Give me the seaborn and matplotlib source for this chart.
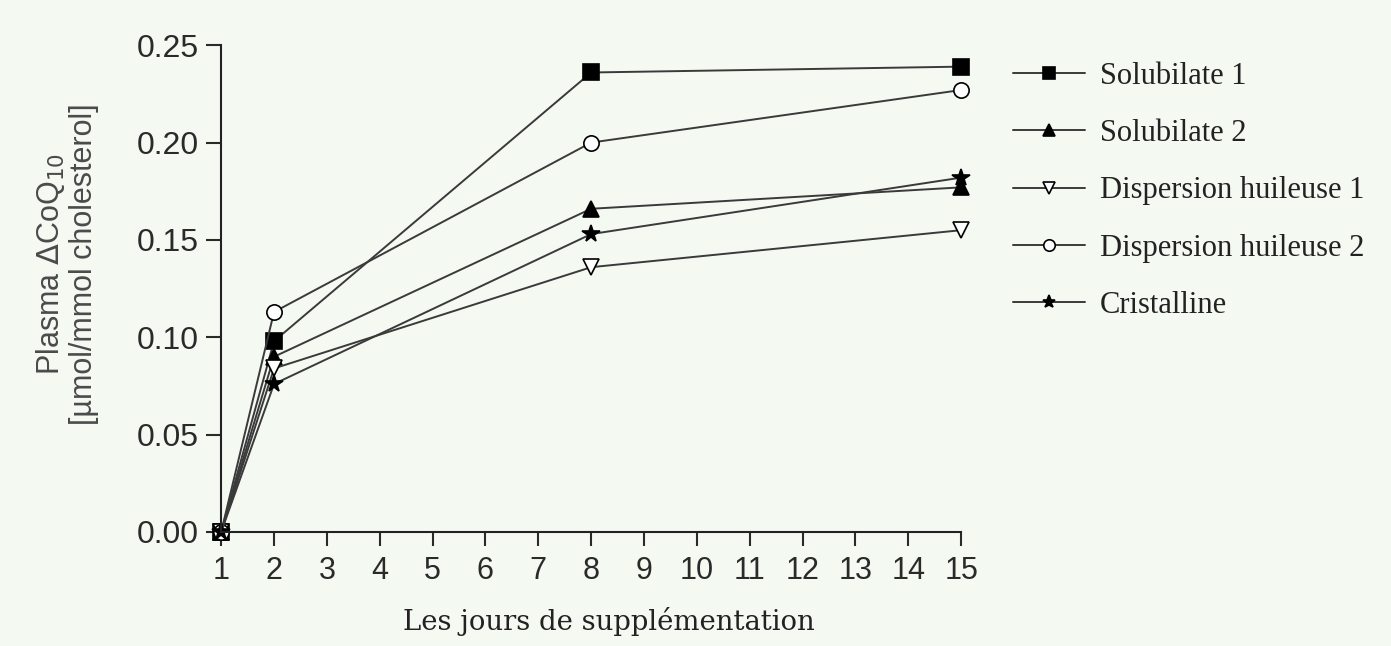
import matplotlib
matplotlib.use("Agg")
import matplotlib.pyplot as plt
import seaborn as sns

days = [1, 2, 8, 15]
solubilate_1 = [0.0, 0.098, 0.236, 0.239]
solubilate_2 = [0.0, 0.090, 0.166, 0.177]
dispersion_1 = [0.0, 0.084, 0.136, 0.155]
dispersion_2 = [0.0, 0.113, 0.200, 0.227]
cristalline = [0.0, 0.076, 0.153, 0.182]

labels = ["Solubilate 1", "Solubilate 2", "Dispersion huileuse 1",
          "Dispersion huileuse 2", "Cristalline"]
series = [solubilate_1, solubilate_2, dispersion_1, dispersion_2, cristalline]
markers = ["s", "^", "v", "o", "*"]
facecolors = ["black", "black", "white", "white", "black"]

sns.set_style("ticks")
bg = "#f4f9f2"
fig = plt.figure(figsize=(13.91, 6.46), dpi=100, facecolor=bg)
ax = fig.add_axes([0.159, 0.1765, 0.532, 0.7535])
ax.set_facecolor(bg)

line_col = "#3a3a3a"
for lab, vals, m, fc in zip(labels, series, markers, facecolors):
    sns.lineplot(x=days, y=vals, ax=ax, color=line_col, linewidth=1.4,
                 marker=m, markersize=11 if m != "*" else 13,
                 markerfacecolor=fc, markeredgecolor="black",
                 markeredgewidth=1.2, label=lab)

ax.set_xlim(1, 15)
ax.set_ylim(0, 0.25)
ax.set_xticks(range(1, 16))
ax.set_yticks([0.0, 0.05, 0.10, 0.15, 0.20, 0.25])
ax.set_yticklabels(["0.00", "0.05", "0.10", "0.15", "0.20", "0.25"])
for l in ax.lines:
    l.set_clip_on(False)

sans = "Liberation Sans"
ax.tick_params(axis="y", labelsize=23, length=11, width=1.5, colors="#2a2a2a",
               pad=5)
ax.tick_params(axis="x", labelsize=22, length=10, width=1.5, colors="#2a2a2a",
               pad=7)
for t in ax.get_xticklabels() + ax.get_yticklabels():
    t.set_fontfamily(sans)
for s in ["top", "right"]:
    ax.spines[s].set_visible(False)
for s in ["left", "bottom"]:
    ax.spines[s].set_linewidth(1.5)
    ax.spines[s].set_color("#222")

ax.set_xlabel("Les jours de supplémentation", fontfamily="DejaVu Serif",
              fontsize=19.8, color="#222")
ax.xaxis.set_label_coords(0.524, -0.155)
ax.set_ylabel("Plasma $\\Delta$CoQ$_{10}$\n[µmol/mmol cholesterol]",
              fontfamily=sans, fontsize=22, color="#4a4a4a", linespacing=1.1)
ax.yaxis.set_label_coords(-0.165, 0.55)

leg = ax.legend(loc="upper left", bbox_to_anchor=(1.033, 1.023), frameon=False,
                handlelength=2.35, labelspacing=0.93, handletextpad=0.5,
                prop={"family": "Liberation Serif", "size": 22},
                markerscale=0.75)
for t in leg.get_texts():
    t.set_color("#222")

fig.savefig("out.png", dpi=100, facecolor=bg)
